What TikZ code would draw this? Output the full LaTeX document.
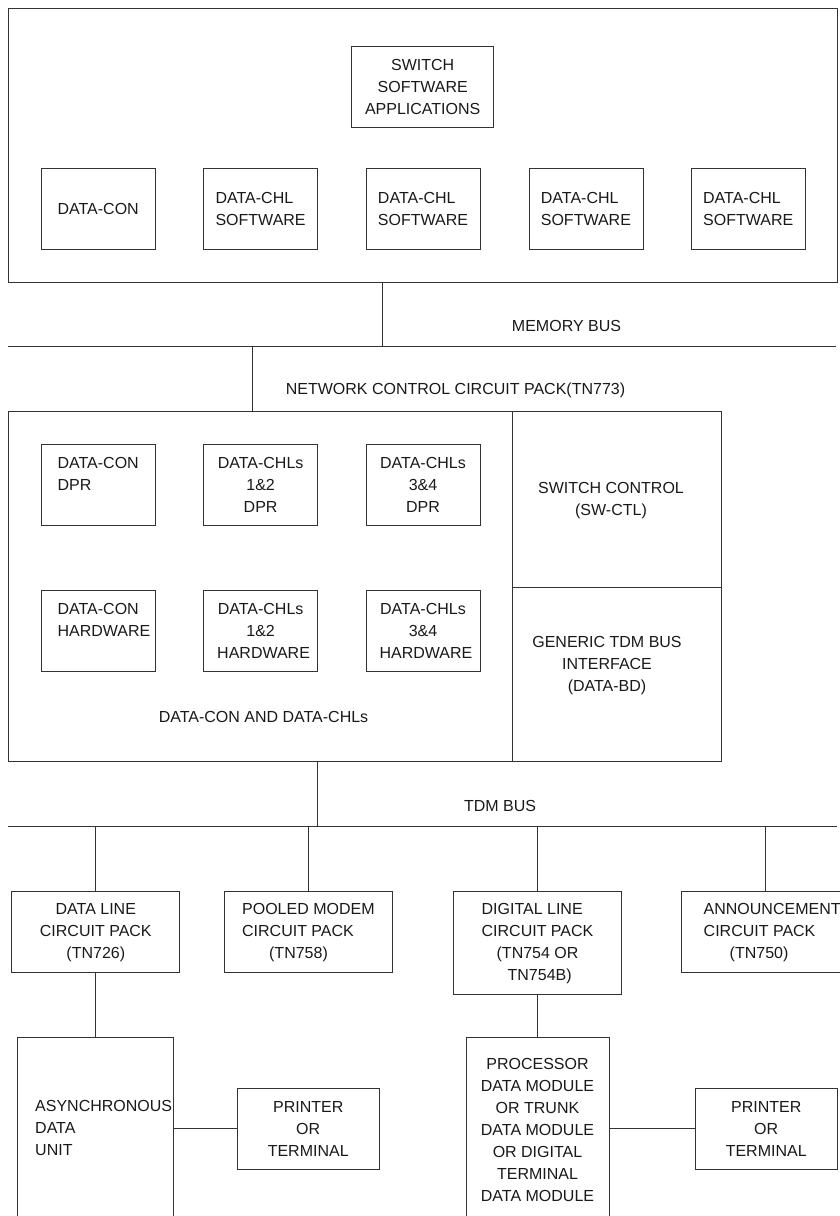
\documentclass[tikz,border=0pt]{standalone}
\usepackage{fontspec}
\setmainfont{Liberation Sans}
\newcommand{\dgmfont}{\fontsize{16}{22}\selectfont}
\begin{document}
\begin{tikzpicture}[x=1pt, y=-1pt,
  box/.style={draw=black!80, line width=0.8pt, rectangle, inner sep=0pt,
    align=center, font=\dgmfont, text=black!90},
  lbl/.style={inner sep=0pt, align=center, font=\dgmfont, text=black!90},
  bus/.style={draw=black!80, line width=0.8pt},
  sbox/.style={minimum width=114pt, minimum height=81pt},
  cbox/.style={minimum width=168pt, minimum height=81pt},
  pbox/.style={minimum width=142.5pt, minimum height=81pt}]
  \useasboundingbox (0,0) rectangle (839,1216);
  % Switch software
  \node[box, minimum width=829pt, minimum height=274pt] (swsys) at (422.5,145.3) {};
  \node[box, minimum width=142pt, minimum height=81pt] (apps) at (422.7,87.3)
    {SWITCH\\SOFTWARE\\APPLICATIONS};
  \node[box, sbox] (dconsw) at (98.2,209) {DATA-CON};
  \foreach \i/\x in {1/260.6,2/423,3/585.9,4/748.2} {
    \node[box, sbox, align=left] (chlsw\i) at (\x,209) {DATA-CHL\\SOFTWARE};
  }
  % Memory bus
  \coordinate (mbW) at (8,346.7);
  \coordinate (mbE) at (836,346.7);
  \coordinate (mbtap) at (382,346.7);
  \coordinate (nctap) at (252,346.7);
  \draw[bus] (mbW) -- (mbE);
  \draw[bus] (swsys.south -| mbtap) -- (mbtap);
  \node[lbl] (mblbl) at (566.5,326) {MEMORY BUS};
  % Network control circuit pack
  \node[lbl] (nclbl) at (455.5,390) {NETWORK CONTROL CIRCUIT PACK(TN773)};
  \node[box, minimum width=504pt, minimum height=350pt] (dchl) at (260,586.7) {};
  \node[box, minimum width=209pt, minimum height=175.3pt] (swctl) at (616.5,499.3) {};
  \node[box, minimum width=209pt, minimum height=174.7pt] (databd) at (616.5,674.3) {};
  \draw[bus] (nctap) -- (nctap |- dchl.north);
  \node[lbl] (swctlt) at (611,500.5) {SWITCH CONTROL\\(SW-CTL)};
  \node[lbl] (databdt) at (607,666) {GENERIC TDM BUS\\INTERFACE\\(DATA-BD)};
  % DPR row
  \node[box, sbox] (dcondpr) at (98.2,484.5) {};
  \node[lbl, anchor=west, align=left] (dcondprt) at (57.4,473.5) {DATA-CON\\DPR};
  \node[box, sbox] (chl12dpr) at (260.6,484.5) {DATA-CHLs\\1\&2\\DPR};
  \node[box, sbox] (chl34dpr) at (423,484.5) {DATA-CHLs\\3\&4\\DPR};
  % Hardware row
  \node[box, sbox] (dconhw) at (98.2,630.5) {};
  \node[lbl, anchor=west, align=left] (dconhwt) at (57.4,619.7) {DATA-CON\\HARDWARE};
  \node[box, sbox] (chl12hw) at (260.6,630.5) {DATA-CHLs\\1\&2\\\hspace*{6pt}HARDWARE};
  \node[box, sbox] (chl34hw) at (423,630.5) {DATA-CHLs\\3\&4\\\hspace*{6pt}HARDWARE};
  \node[lbl] (dchllbl) at (263.5,717.3) {DATA-CON AND DATA-CHLs};
  % TDM bus
  \coordinate (tdmW) at (8,826);
  \coordinate (tdmE) at (837,826);
  \coordinate (tdmtap) at (317,826);
  \draw[bus] (tdmW) -- (tdmE);
  \draw[bus] (dchl.south -| tdmtap) -- (tdmtap);
  \node[lbl] (tdmlbl) at (500,805.7) {TDM BUS};
  % Circuit packs
  \node[box, cbox] (dline) at (95.8,932.2) {DATA LINE\\CIRCUIT PACK\\(TN726)};
  \node[box, cbox, align=left] (pmodem) at (308.4,932.2)
    {POOLED MODEM\\CIRCUIT PACK\\\hspace*{27pt}(TN758)};
  \node[box, cbox, minimum height=103pt, align=left] (dgline) at (537.5,943.3)
    {DIGITAL LINE\\CIRCUIT PACK\\\hspace*{15pt}(TN754 OR\\\hspace*{26pt}TN754B)};
  \node[box, cbox] (annc) at (765,932.2) {};
  \node[lbl, anchor=west, align=left] (annct) at (703.5,932.2)
    {ANNOUNCEMENT\\CIRCUIT PACK\\\hspace*{26pt}(TN750)};
  \foreach \n in {dline,pmodem,dgline,annc} {
    \draw[bus] (\n.north |- tdmW) -- (\n.north);
  }
  % Data units and terminals
  \node[box, minimum width=156pt, minimum height=185pt] (adu) at (95.8,1129.5) {};
  \node[lbl, anchor=west, align=left] (adut) at (35,1128.3) {ASYNCHRONOUS\\DATA\\UNIT};
  \node[box, pbox] (prt1) at (308.2,1128.5) {PRINTER\\OR\\TERMINAL};
  \node[box, minimum width=143pt, minimum height=185pt] (pdm) at (537.5,1129.5)
    {PROCESSOR\\DATA MODULE\\OR TRUNK\\DATA MODULE\\OR DIGITAL\\TERMINAL\\DATA MODULE};
  \node[box, pbox] (prt2) at (766.2,1128.5) {PRINTER\\OR\\TERMINAL};
  \draw[bus] (dline) -- (adu);
  \draw[bus] (dgline) -- (pdm);
  \draw[bus] (adu.east |- prt1.west) -- (prt1.west);
  \draw[bus] (pdm.east |- prt2.west) -- (prt2.west);
\end{tikzpicture}
\end{document}
